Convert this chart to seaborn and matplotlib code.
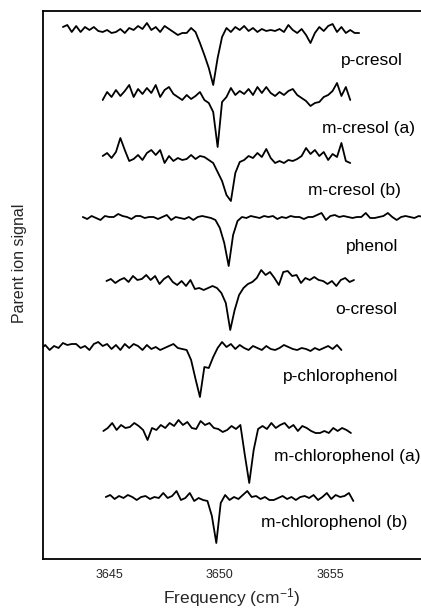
import numpy as np
import pandas as pd
import matplotlib
matplotlib.use("Agg")
import matplotlib.pyplot as plt
import seaborn as sns

# ---------------- data ----------------
names = ["p-cresol", "m-cresol (a)", "m-cresol (b)", "phenol", "o-cresol",
         "p-chlorophenol", "m-chlorophenol (a)", "m-chlorophenol (b)"]

# frequency range of each trace (cm^-1): start, end
freq_start = [3642.9, 3644.7, 3644.7, 3643.8, 3644.87, 3641.9, 3644.73, 3644.84]
freq_end   = [3656.3, 3655.9, 3655.9, 3659.2, 3656.07, 3655.5, 3655.93, 3656.04]

p_cresol = [3, 5, -2, 4, -2, 3, 0, 3, -1, -2, 0, -3, -2, 1, -3, 2, 0, 4, 1, 7,
            0, 3, -2, 4, 1, -2, -5, -3, -3, 2, -2, -13, -25, -38, -55, -28, -7, 2, -2, 3,
            0, 4, -1, 2, -2, 1, -1, 0, -1, 1, -2, 5, 0, -3, 1, -5, -13, -3, 3, -1,
            4, 6, -2, 3, -3, 0, -3, -3]
m_cresol_a = [-5, 3, -2, 5, -1, 4, 10, -2, 6, 1, 7, 2, 10, -2, 5, 8, 1, -2, -5, 0,
              -4, -1, 3, -5, -8, -17, -52, -7, -2, 7, 0, 4, 1, 6, 0, 8, 2, 8, 2, -1,
              3, 0, 4, 6, 0, -3, -6, -11, -8, -7, -2, 0, 4, 12, -1, 8, -5]
m_cresol_b = [2, 5, 0, 6, 20, 8, -3, -1, 3, -2, 5, 8, 3, 8, -5, 2, -3, 0, -2, -1,
              3, -1, 2, 1, -2, -5, -14, -23, -37, -43, -15, -4, -2, 2, 0, 5, 1, 9, 0, -5,
              -3, -5, -2, -3, -1, 2, 10, 4, 8, 2, 6, -2, 4, 1, 15, -3, -5]
phenol = [0, -2, 1, -1, -3, 1, 0, 0, 3, 1, 0, -2, 1, 1, -1, 0, 0, -2, 0, 2,
          -3, 0, -1, -2, 0, -3, 0, 1, 0, -1, -3, -11, -26, -49, -18, -4, 0, -1, 1, 0,
          -1, 1, 0, 1, -2, 0, -1, 1, 0, 0, -2, 0, 0, 2, 4, -3, 1, 2, 0, 1,
          0, -1, 0, 0, 4, -1, -1, 0, 1, 4, 0, -3, 0, 1, 0, -1, 1, 0]
o_cresol = [2, 4, 0, 3, 5, 1, 7, 3, 4, 8, 3, 7, -1, 4, 7, 1, -2, 2, -3, 3,
            -6, -5, -7, -5, -3, -5, -10, -20, -47, -27, -12, -5, -1, 1, 5, 13, 8, 11, 5, -2,
            11, 12, 7, 8, 0, 5, 3, 6, 3, 2, -1, 2, -3, 3, 5, 1, 3]
p_chlorophenol = [-2, 2, -3, 1, -1, 4, 2, 3, 3, -1, 1, -3, 3, 5, 1, 3, -2, 2, -3, 3,
                  -1, 3, 1, -3, 2, -2, 0, -3, -1, 1, 3, -1, -2, -3, -13, -32, -50, -20, -21, -10,
                  -1, 5, 0, 3, -2, 2, -1, -3, 1, -1, -3, 1, -2, -3, -1, 2, 0, -2, -3, -1,
                  -2, -4, -1, -3, -1, 1, -2, 2, -3]
m_chlorophenol_a = [-3, 0, 5, -2, 3, 0, 1, 5, 2, -2, -12, 0, -2, 3, 0, 5, 2, 8, 3, 6,
                    0, -1, 7, 3, 5, 0, -1, -4, -2, 2, -1, 3, -27, -55, -22, -1, 2, -1, 5, 0,
                    3, 5, 0, 3, -3, 2, 0, -3, -5, -5, -3, -5, 0, -3, 0, -2, -5]
m_chlorophenol_b = [1, 3, -1, 2, 0, 3, 1, -2, 1, 2, -1, 1, 0, 5, 0, 2, 7, -2, 0, 5,
                    -3, 0, -2, -3, -18, -45, -5, 3, -2, 1, -1, 3, 7, 1, 2, -1, 1, -2, -2, 0,
                    2, -1, 1, -2, 1, 2, 0, 3, -2, 1, 5, -1, 3, 1, 2, 5, -3]

signals = [p_cresol, m_cresol_a, m_cresol_b, phenol, o_cresol,
           p_chlorophenol, m_chlorophenol_a, m_chlorophenol_b]

xticks = [3645, 3650, 3655]

# ---------------- layout ----------------
offsets = [529, 464, 401, 342, 276, 212, 131, 61]          # baseline of each trace
label_x = [3658.26, 3658.85, 3658.17, 3658.08, 3658.03, 3658.08, 3659.07, 3658.5]
label_y = [499, 431, 369, 312, 250, 183, 103, 36]

sns.set_theme(style="white")
plt.rcParams["font.family"] = ["Liberation Sans", "DejaVu Sans"]
plt.rcParams["mathtext.default"] = "regular"

fig = plt.figure(figsize=(4.21, 6.10), dpi=100)
ax = fig.add_axes([43 / 421, 51 / 610, 378 / 421, 548 / 610])

frames = []
for name, s, x0, x1, off in zip(names, signals, freq_start, freq_end, offsets):
    x = np.linspace(x0, x1, len(s))
    frames.append(pd.DataFrame({"freq": x, "signal": np.array(s, float) + off, "trace": name}))
df = pd.concat(frames, ignore_index=True)

for name in names:
    sub = df[df["trace"] == name]
    sns.lineplot(data=sub, x="freq", y="signal", ax=ax, color="black",
                 linewidth=1.3, estimator=None, sort=False, legend=False)

for name, lx, ly in zip(names, label_x, label_y):
    ax.text(lx, ly, name, ha="right", va="center", fontsize=12.5, color="black")

ax.set_xlim(3642.0, 3659.1)
ax.set_ylim(0, 548)
ax.set_xticks(xticks)
ax.set_xticklabels([str(t) for t in xticks], fontsize=9)
ax.set_yticks([])
ax.tick_params(axis="x", direction="out", length=3, width=1, color="black", pad=4)
ax.set_xlabel("Frequency (cm$^{-1}$)", fontsize=12.5, labelpad=4)
ax.set_ylabel("Parent ion signal", fontsize=11.5)
ax.yaxis.set_label_coords(-0.042, 0.54)

for side in ["left", "bottom", "top"]:
    ax.spines[side].set_visible(True)
    ax.spines[side].set_color("black")
    ax.spines[side].set_linewidth(1.3)
ax.spines["right"].set_visible(False)

fig.savefig("out.png", dpi=100)
